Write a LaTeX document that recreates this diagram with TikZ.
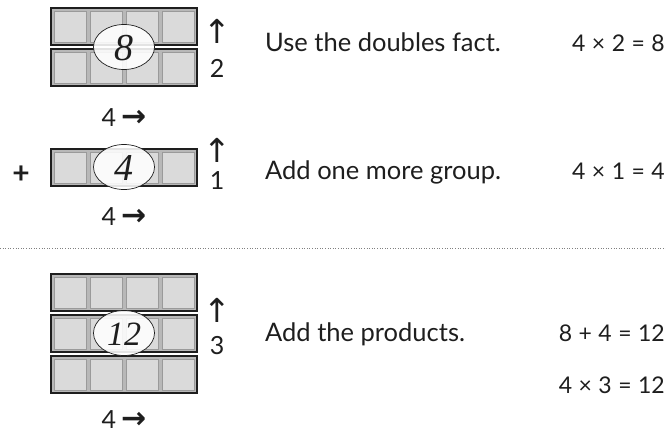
\documentclass[tikz,border=0pt]{standalone}
\usepackage{fontspec}
\usetikzlibrary{shapes.geometric}
\setmainfont{Lato}
\newfontfamily\arrowfont{DejaVu Sans}
\newfontfamily\ovalfont{Liberation Serif}
\definecolor{rowfill}{HTML}{B8B8B8}
\definecolor{cellfill}{HTML}{DADADA}
\definecolor{celledge}{HTML}{9A9A9A}
\definecolor{inkc}{HTML}{1E1E1E}
\newcommand{\eqsp}{\hspace{6.5pt}}
\begin{document}
\begin{tikzpicture}[x=1pt,y=-1pt,
  rowbox/.style={draw=inkc,line width=1.4pt,fill=rowfill},
  cellbox/.style={draw=celledge,line width=0.9pt,fill=cellfill},
  oval/.style={ellipse,draw=inkc,line width=0.7pt,fill=white,fill opacity=0.88,text opacity=1,minimum width=61pt,minimum height=45pt,inner sep=0pt},
  ovaltxt/.style={font=\fontsize{38}{42}\selectfont\ovalfont\itshape,text=inkc,inner sep=0pt},
  lbl/.style={font=\fontsize{25.5}{29}\selectfont,text=inkc,inner sep=0pt},
  eqn/.style={font=\fontsize{23}{27}\selectfont,text=inkc,inner sep=0pt},
  side/.style={font=\fontsize{25}{28}\selectfont,text=inkc,inner sep=0pt},
  arr/.style={font=\fontsize{33}{36}\selectfont\arrowfont,text=inkc,inner sep=0pt}]
\useasboundingbox (0,0) rectangle (666,434);
% rows of four squares
\foreach \y in {8,49,149,274,315,356}{
  \draw[rowbox] (51,\y) rectangle (197,\y+37);
  \foreach \x in {54,90,126,162}{
    \draw[cellbox] (\x,\y+3) rectangle (\x+32,\y+34);
  }
}
% ovals
\node[oval] (o1) at (124,47) {};
\node[ovaltxt,anchor=base] (n1) at (124,60) {8};
\node[oval] (o2) at (124,167) {};
\node[ovaltxt,anchor=base] (n2) at (124,180) {4};
\node[oval] (o3) at (124,333) {};
\node[ovaltxt,anchor=base,font=\fontsize{34}{38}\selectfont\ovalfont\itshape] (n3) at (124,345) {12};
% side labels
\node[arr] (u1) at (217,31) {↑};
\node[side,anchor=base] (d1) at (217,77) {2};
\node[arr] (u2) at (217,150) {↑};
\node[side,anchor=base] (d2) at (217,189) {1};
\node[arr] (u3) at (217,310) {↑};
\node[side,anchor=base] (d3) at (217,354) {3};
\node[side,anchor=base] (f1) at (124,126) {4\hspace{5pt}{\fontsize{30}{32}\selectfont\arrowfont\bfseries →}};
\node[side,anchor=base] (f2) at (124,225) {4\hspace{5pt}{\fontsize{30}{32}\selectfont\arrowfont\bfseries →}};
\node[side,anchor=base] (f3) at (124,428) {4\hspace{5pt}{\fontsize{30}{32}\selectfont\arrowfont\bfseries →}};
\node[lbl,font=\fontsize{30}{32}\selectfont\bfseries] (plus) at (21,175) {+};
% explanations
\node[lbl,anchor=base west] (t1) at (265,51) {Use the doubles fact.};
\node[lbl,anchor=base west] (t2) at (265,179) {Add one more group.};
\node[lbl,anchor=base west] (t3) at (265,341) {Add the products.};
\node[eqn,anchor=base east] (e1) at (665,51) {4\eqsp×\eqsp2\eqsp=\eqsp8};
\node[eqn,anchor=base east] (e2) at (665,179) {4\eqsp×\eqsp1\eqsp=\eqsp4};
\node[eqn,anchor=base east] (e3) at (665,341) {8\eqsp+\eqsp4\eqsp=\eqsp12};
\node[eqn,anchor=base east] (e4) at (665,393) {4\eqsp×\eqsp3\eqsp=\eqsp12};
% separator
\coordinate (sl) at (0,248);
\coordinate (sr) at (666,248);
\draw[gray,line width=0.6pt,dotted] (sl) -- (sr);
\end{tikzpicture}
\end{document}
